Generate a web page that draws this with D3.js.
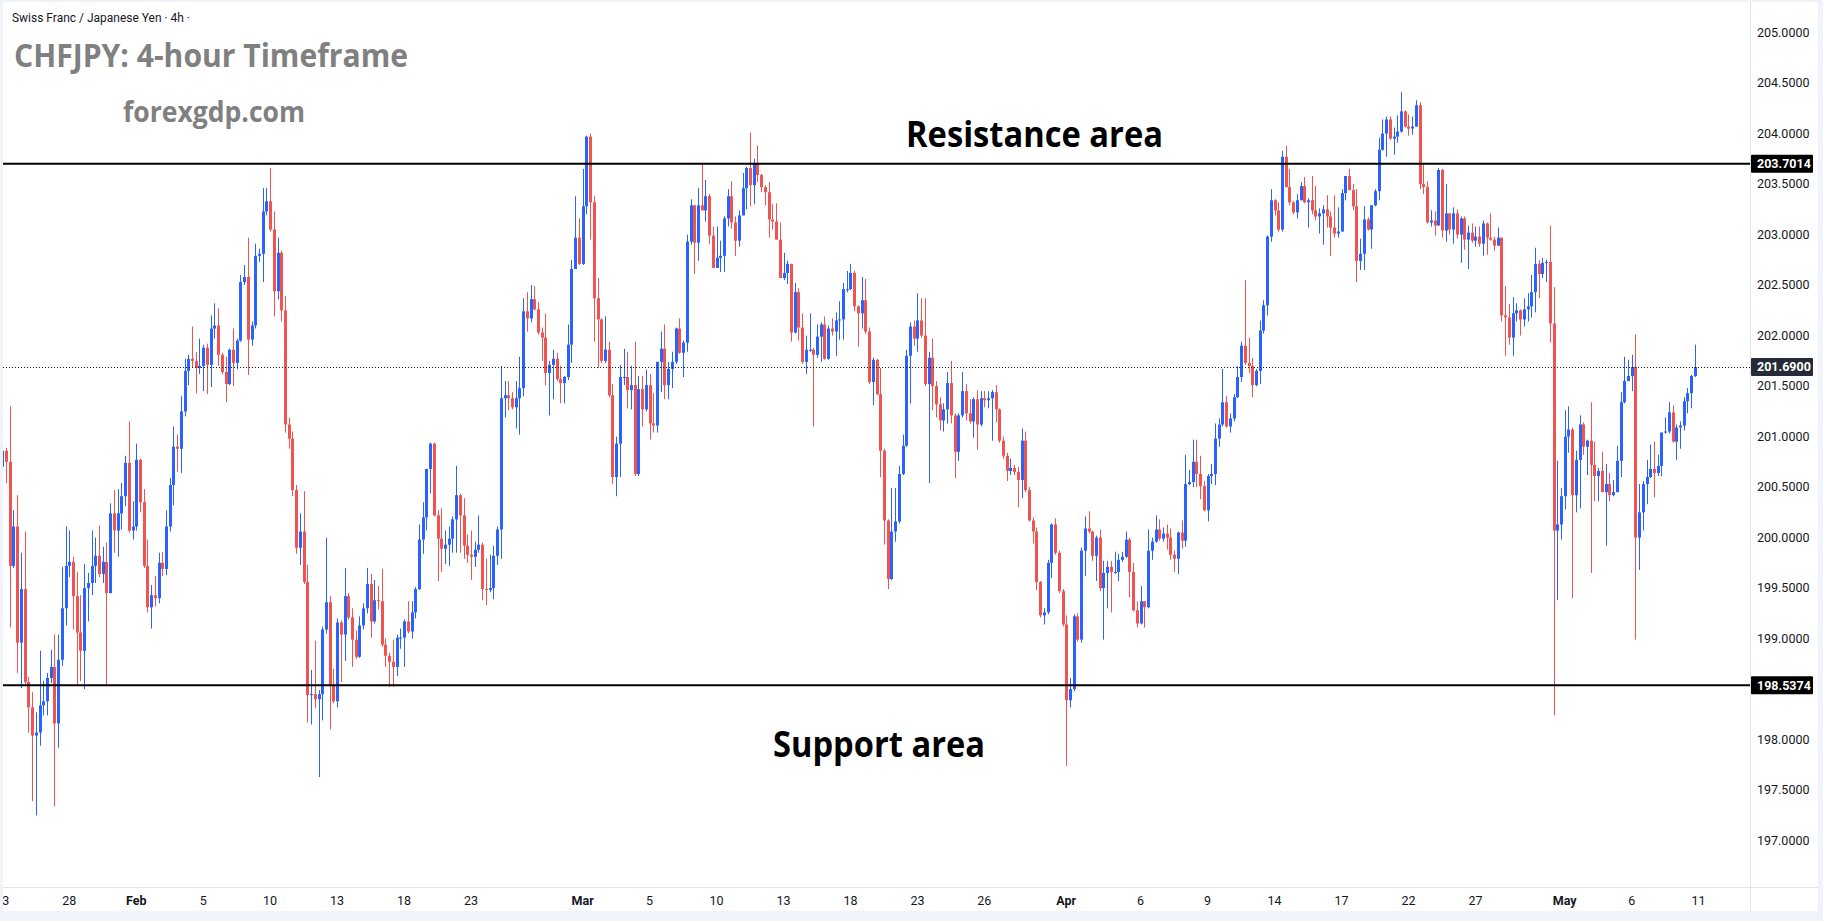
<!DOCTYPE html>
<html>
<head>
<meta charset="utf-8">
<script src="https://cdn.jsdelivr.net/npm/d3@7"></script>
<style>
  html, body { margin: 0; padding: 0; background: #f0f3fa; }
  svg { display: block; }
</style>
</head>
<body>
<div id="chart"></div>
<script>
// Page size and plot box
let svgWidth = 1823;
let svgHeight = 921;
let plot = { left: 3, top: 2, right: 1750, bottom: 887 };

// ---- data: CHFJPY 4h candles, 23 Jan -> 11 May (open of each bar = previous close)
const firstOpen = 200.70;

const closes = [
200.86,200.75,199.72,200.11,198.96,199.49, 198.57,198.32,198.04,198.07,198.34,198.38,
198.61,198.72,198.16,198.79,199.30,199.72, 199.76,199.42,199.06,198.88,199.50,199.55,
199.72,199.82,199.64,199.76,199.45,200.24, 200.07,200.24,200.41,200.74,200.07,200.11,
200.77,200.35,199.72,199.31,199.43,199.40, 199.75,199.69,200.11,200.52,200.90,200.88,
201.25,201.65,201.77,201.75,201.68,201.70, 201.88,201.71,202.07,202.10,201.81,201.64,
201.52,201.86,201.73,201.95,202.53,202.58, 201.96,202.10,202.79,202.81,203.23,203.33,
203.05,202.44,202.82,202.25,201.12,200.98, 200.47,199.90,200.06,199.56,198.44,198.45,
198.40,198.45,199.09,199.36,198.54,198.38, 199.16,199.04,199.42,199.21,198.99,198.82,
199.13,199.30,199.54,199.17,199.38,199.37, 198.94,198.83,198.77,198.72,199.01,199.01,
199.17,199.07,199.26,199.49,199.98,200.20, 200.68,200.93,200.22,199.99,199.89,199.93,
199.99,200.18,200.42,200.22,199.92,199.83, 199.81,199.88,199.93,199.49,199.48,199.50,
199.82,200.08,201.38,201.41,201.38,201.29, 201.38,201.48,202.24,202.17,202.36,202.26,
202.03,201.98,201.63,201.71,201.77,201.57, 201.53,201.59,201.91,202.66,202.97,202.71,
203.28,203.97,203.32,202.37,202.16,201.75, 201.86,201.41,200.60,200.93,201.59,201.59,
201.46,201.51,200.63,201.47,201.27,201.51, 201.13,201.11,201.74,201.87,201.51,201.67,
201.74,202.07,201.83,201.93,202.93,203.29, 202.92,203.29,203.24,203.38,202.99,202.67,
202.77,202.79,203.16,203.38,203.12,202.94, 203.19,203.46,203.66,203.49,203.70,203.59,
203.47,203.42,203.15,203.13,202.95,202.57, 202.62,202.71,202.03,202.43,202.08,201.74,
201.86,201.86,201.81,201.99,202.11,201.77, 202.07,202.04,202.15,202.16,202.46,202.46,
202.62,202.29,202.22,202.35,202.04,201.54, 201.76,201.42,200.86,200.17,199.59,200.06,
200.16,200.63,200.91,201.80,202.09,201.97, 202.15,202.00,201.52,201.78,201.50,201.32,
201.16,201.27,201.53,201.21,200.85,201.21, 201.45,201.23,201.15,201.37,201.12,201.38,
201.36,201.38,201.44,201.27,200.96,200.81, 200.66,200.69,200.65,200.57,200.96,200.47,
200.17,200.06,199.56,199.23,199.26,199.75, 200.13,199.85,199.47,199.14,198.39,198.50,
199.22,198.99,199.87,200.09,200.06,199.82, 200.00,199.50,199.65,199.71,199.66,199.66,
199.78,199.81,199.98,199.66,199.28,199.15, 199.37,199.31,199.87,199.96,200.08,199.99,
200.04,200.00,199.83,199.79,200.05,199.97, 200.53,200.55,200.75,200.63,200.51,200.27,
200.61,200.63,200.98,201.12,201.34,201.10, 201.18,201.39,201.59,201.90,201.73,201.70,
201.51,201.65,202.05,202.30,202.98,203.34, 203.24,203.05,203.77,203.47,203.32,203.22,
203.34,203.48,203.32,203.34,203.24,203.18, 203.21,203.25,203.18,203.07,203.01,203.03,
203.41,203.58,203.44,203.28,202.74,202.81, 203.15,203.05,203.29,203.43,203.84,204.00,
204.14,203.95,203.97,204.02,204.22,204.07, 204.05,204.07,204.28,203.50,203.47,203.12,
203.14,203.09,203.64,203.04,203.21,203.05, 203.21,203.00,203.16,202.95,203.02,202.94,
202.98,202.91,203.11,202.97,202.95,202.89, 202.97,202.20,202.18,201.98,202.22,202.25,
202.16,202.26,202.29,202.43,202.71,202.61, 202.72,202.73,202.12,200.07,200.13,200.41,
201.00,201.07,200.42,200.77,201.12,200.90, 200.96,200.72,200.61,200.66,200.45,200.53,
200.42,200.45,200.76,201.34,201.55,201.60, 201.69,200.00,200.25,200.53,200.60,200.68,
200.64,200.71,201.04,201.05,201.24,200.95, 201.09,201.11,201.35,201.43,201.60,201.69
];

const highs = [
200.88,200.89,201.30,200.27,200.42,199.85, 200.06,198.62,198.47,198.27,198.88,198.58,
198.66,198.89,199.04,199.04,199.71,200.11, 200.07,199.81,199.66,199.43,199.74,199.65,
200.07,200.00,200.12,199.91,199.95,200.34, 200.47,200.48,200.54,200.81,201.15,200.36,
200.93,200.78,200.48,199.98,199.53,199.62, 199.85,199.86,200.27,200.59,201.10,201.02,
201.40,201.77,201.81,202.09,201.84,201.97, 201.91,201.92,202.20,202.32,202.27,201.83,
201.79,201.87,202.07,201.97,202.60,202.70, 202.97,202.14,202.91,202.86,203.46,203.46,
203.66,203.23,202.97,202.84,202.39,201.19, 201.05,200.52,200.24,200.46,199.73,198.69,
198.98,198.49,199.12,200.00,199.42,198.70, 199.20,199.18,199.70,199.45,199.30,199.08,
199.22,199.35,199.70,199.64,199.58,199.52, 199.69,199.00,198.86,198.99,199.04,199.10,
199.19,199.37,199.37,199.51,200.13,200.35, 200.68,200.94,200.94,200.27,200.29,200.07,
200.11,200.21,200.71,200.43,200.39,200.03, 200.07,199.96,200.22,199.95,199.79,199.83,
199.92,200.11,201.70,201.55,201.55,201.44, 201.55,201.79,202.37,202.43,202.50,202.49,
202.33,202.08,202.22,201.75,201.86,201.83, 201.70,201.60,202.11,202.75,203.38,203.16,
203.65,203.98,204.00,203.38,202.57,202.17, 202.19,201.94,201.52,201.00,201.71,201.87,
201.84,201.70,201.94,201.60,201.60,201.66, 201.62,201.43,201.74,202.04,202.11,201.74,
201.84,202.08,202.17,201.95,203.00,203.35, 203.29,203.46,203.71,203.54,203.40,203.08,
203.08,202.94,203.18,203.45,203.53,203.18, 203.24,203.61,203.67,204.01,203.75,203.88,
203.60,203.49,203.52,203.30,203.31,203.12, 202.82,202.74,202.71,202.52,202.47,202.22,
202.00,202.22,201.88,202.11,202.13,202.19, 202.10,202.17,202.23,202.34,202.52,202.64,
202.71,202.64,202.30,202.58,202.56,202.08, 201.78,201.77,201.68,200.88,200.18,200.49,
200.49,200.71,201.02,201.86,202.13,202.15, 202.42,202.37,202.37,201.84,201.97,201.55,
201.39,201.33,201.64,201.75,201.23,201.23, 201.64,201.52,201.37,201.39,201.46,201.45,
201.45,201.45,201.46,201.51,201.28,201.00, 200.84,200.78,200.72,200.70,201.08,201.05,
200.50,200.20,200.10,199.57,199.30,199.78, 200.14,200.19,199.87,199.49,199.23,198.61,
199.24,199.25,199.90,200.21,200.26,200.07, 200.02,200.08,199.77,199.77,199.77,199.86,
199.84,199.86,200.06,200.00,199.75,199.37, 199.52,199.37,200.08,200.00,200.22,200.18,
200.10,200.13,200.09,199.87,200.06,200.17, 200.82,200.67,200.97,200.97,200.81,200.56,
200.63,200.73,201.13,201.18,201.67,201.40, 201.23,201.42,201.70,201.94,202.55,201.98,
201.78,201.67,202.15,202.35,202.99,203.45, 203.35,203.32,203.83,203.88,203.65,203.33,
203.40,203.52,203.57,203.36,203.58,203.48, 203.26,203.29,203.39,203.23,203.39,203.27,
203.45,203.58,203.65,203.50,203.45,202.96, 203.28,203.17,203.29,203.45,203.96,204.14,
204.17,204.17,204.06,204.18,204.41,204.23, 204.19,204.17,204.33,204.31,203.71,203.53,
203.24,203.23,203.66,203.65,203.50,203.21, 203.27,203.25,203.18,203.18,203.09,203.11,
203.08,203.08,203.14,203.12,203.21,202.98, 203.07,202.97,202.49,202.31,202.38,202.32,
202.26,202.37,202.42,202.60,202.87,202.75, 202.77,202.75,203.09,202.48,200.76,200.49,
201.26,201.30,201.09,200.86,201.21,201.14, 200.97,201.34,200.95,200.69,200.85,200.73,
200.64,200.57,200.91,201.44,201.79,201.76, 201.81,202.01,200.53,200.56,200.77,200.92,
200.95,200.82,201.04,201.19,201.34,201.31, 201.12,201.15,201.39,201.48,201.61,201.91
];

const lows = [
200.68,200.54,199.11,199.70,198.66,198.51, 198.55,198.07,197.39,197.25,197.94,198.24,
198.24,198.56,197.34,197.92,198.73,199.13, 199.61,199.09,198.54,198.58,198.50,199.17,
199.43,199.55,199.61,199.55,198.54,199.45, 199.85,199.81,200.08,200.31,200.05,199.98,
200.07,200.25,199.70,199.26,199.10,199.32, 199.35,199.62,199.63,200.06,200.32,200.65,
200.64,201.20,201.51,201.68,201.43,201.62, 201.45,201.42,201.49,201.97,201.70,201.62,
201.34,201.51,201.50,201.67,201.94,202.50, 201.61,201.90,202.07,202.73,202.53,203.19,
203.03,202.19,202.36,202.14,201.04,200.88, 200.41,199.84,199.73,199.54,198.17,198.15,
198.31,197.63,198.19,199.05,198.10,198.36, 198.32,198.57,198.78,199.19,198.72,198.80,
198.81,199.09,199.25,199.01,199.15,199.29, 198.92,198.72,198.52,198.52,198.63,198.90,
198.72,199.05,199.00,199.20,199.48,199.84, 200.07,200.44,200.21,199.57,199.66,199.74,
199.72,199.85,199.85,199.85,199.79,199.75, 199.58,199.71,199.85,199.38,199.33,199.46,
199.39,199.73,199.79,201.19,201.26,201.27, 201.08,201.02,201.40,202.04,202.13,202.25,
202.01,201.75,201.51,201.21,201.37,201.55, 201.33,201.33,201.56,201.73,202.66,202.70,
202.70,203.20,202.95,201.94,201.68,201.73, 201.73,201.39,200.53,200.41,200.60,201.51,
201.28,201.27,200.61,200.61,201.10,201.25, 200.97,201.04,201.04,201.44,201.37,201.37,
201.48,201.72,201.82,201.59,201.84,202.90, 202.61,202.74,203.24,203.13,202.91,202.67,
202.67,202.63,202.63,203.08,203.06,202.79, 202.88,203.19,203.25,203.28,203.30,203.52,
203.42,203.29,202.97,203.05,202.95,202.57, 202.55,202.51,201.94,202.02,201.95,201.72,
201.62,201.84,201.10,201.78,201.74,201.76, 201.76,202.00,201.80,201.96,201.96,202.43,
202.45,202.24,201.89,202.07,202.02,201.52, 201.31,201.41,200.60,199.93,199.49,199.58,
199.96,200.14,200.62,200.90,201.33,201.90, 201.84,201.98,201.50,200.54,201.26,201.19,
201.06,201.05,201.13,201.13,200.59,200.76, 201.19,201.16,201.13,200.99,200.87,201.10,
201.29,201.28,200.96,201.14,200.94,200.78, 200.56,200.62,200.62,200.30,200.39,200.45,
200.16,199.94,199.48,199.21,199.14,199.24, 199.60,199.83,199.45,199.12,197.74,198.32,
198.48,198.97,198.96,199.62,200.04,199.77, 199.57,199.47,198.99,199.30,199.26,199.64,
199.57,199.76,199.80,199.41,199.27,199.11, 199.14,199.11,199.30,199.78,199.95,199.97,
199.96,199.88,199.78,199.66,199.64,199.89, 199.91,200.52,200.50,200.50,200.38,200.26,
200.16,200.53,200.52,200.90,201.10,201.09, 201.04,201.15,201.38,201.54,201.71,201.63,
201.39,201.50,201.52,202.02,202.20,202.93, 203.19,203.03,203.03,203.47,203.29,203.20,
203.16,203.34,203.31,203.07,203.20,203.14, 203.01,202.90,203.07,202.79,202.97,202.97,
203.03,203.34,203.44,203.24,202.53,202.65, 202.65,203.04,202.86,203.28,203.34,203.83,
203.77,203.94,203.79,203.91,204.01,204.06, 203.98,203.99,204.07,203.45,203.40,203.11,
203.08,202.99,203.09,202.97,202.93,203.00, 202.91,202.96,202.72,202.85,202.66,202.92,
202.88,202.88,202.79,202.80,202.94,202.84, 202.89,202.14,201.80,201.91,201.80,202.14,
202.00,202.09,202.14,202.18,202.23,202.37, 202.57,202.53,201.93,198.24,199.38,199.98,
200.28,200.84,199.40,200.25,200.29,200.82, 200.62,199.65,200.36,200.36,200.45,199.92,
200.36,200.41,200.45,200.60,201.33,201.55, 201.45,198.99,199.68,200.07,200.33,200.59,
200.40,200.61,200.61,201.03,201.03,200.94, 200.77,200.88,201.06,201.23,201.28,201.59
];

// time axis: label text and the bar index it sits on
const tickLabels = ["23","28","Feb","5","10","13","18","23","Mar","5","10","13","18",
                    "23","26","Apr","6","9","14","17","22","27","May","6","11"];
const tickBars = [0,18,36,54,72,90,108,126,156,174,192,210,228,
                  246,264,286,306,324,342,360,378,396,420,438,456];
const monthNames = ["Feb","Mar","Apr","May"];

// price axis ticks and marked levels
const priceTicks = [197,197.5,198,198.5,199,199.5,200,200.5,201,201.5,
                    202,202.5,203,203.5,204,204.5,205];
const resistance = 203.7014;
const support = 198.5374;
const lastPrice = 201.69;

// build candle table
let candles = closes.map((c, i) => ({
  i: i,
  o: i === 0 ? firstOpen : closes[i - 1],
  h: highs[i],
  l: lows[i],
  c: c
}));

let upColor = "#2962ff";
let downColor = "#f05350";

// scales
let x = d3.scaleLinear().domain([0, 455]).range([2.3, 2.3 + 455 * 3.72]);
let y = d3.scaleLinear().domain([197, 205]).range([840.6, 32.6]);

let svg = d3.select("#chart")
  .append("svg")
  .attr("width", svgWidth)
  .attr("height", svgHeight);

// white chart panel
svg.append("rect")
  .attr("x", 3).attr("y", 2)
  .attr("width", 1815).attr("height", 909)
  .attr("fill", "#ffffff");

svg.append("clipPath").attr("id", "plotClip")
  .append("rect")
  .attr("x", plot.left).attr("y", plot.top)
  .attr("width", plot.right - plot.left).attr("height", plot.bottom - plot.top);

svg.append("clipPath").attr("id", "timeClip")
  .append("rect")
  .attr("x", plot.left).attr("y", plot.bottom)
  .attr("width", plot.right - plot.left).attr("height", 30);

// axis separators
svg.append("line")
  .attr("x1", plot.right + 0.5).attr("x2", plot.right + 0.5)
  .attr("y1", 2).attr("y2", 911)
  .attr("stroke", "#e0e3eb");
svg.append("line")
  .attr("x1", 3).attr("x2", 1818)
  .attr("y1", plot.bottom + 0.5).attr("y2", plot.bottom + 0.5)
  .attr("stroke", "#e0e3eb");

let chartGroup = svg.append("g").attr("clip-path", "url(#plotClip)");

// wicks
chartGroup.selectAll("rect.wick")
  .data(candles)
  .enter()
  .append("rect")
  .attr("class", "wick")
  .attr("x", d => Math.round(x(d.i)))
  .attr("width", 1)
  .attr("y", d => y(Math.max(d.h, d.o, d.c)))
  .attr("height", d => Math.max(1, y(Math.min(d.l, d.o, d.c)) - y(Math.max(d.h, d.o, d.c))))
  .attr("fill", d => d.c >= d.o ? upColor : downColor);

// bodies
chartGroup.selectAll("rect.body")
  .data(candles)
  .enter()
  .append("rect")
  .attr("class", "body")
  .attr("x", d => Math.round(x(d.i)) - 1)
  .attr("width", 3)
  .attr("y", d => y(Math.max(d.o, d.c)))
  .attr("height", d => Math.max(1, Math.abs(y(d.o) - y(d.c))))
  .attr("fill", d => d.c >= d.o ? upColor : downColor);

// support / resistance lines
[resistance, support].forEach(level => {
  chartGroup.append("line")
    .attr("x1", plot.left).attr("x2", plot.right)
    .attr("y1", y(level)).attr("y2", y(level))
    .attr("stroke", "#000000")
    .attr("stroke-width", 2);
});

// last price dotted line
chartGroup.append("line")
  .attr("x1", plot.left).attr("x2", plot.right)
  .attr("y1", Math.round(y(lastPrice)) + 0.5).attr("y2", Math.round(y(lastPrice)) + 0.5)
  .attr("stroke", "#131722")
  .attr("stroke-width", 1)
  .attr("stroke-dasharray", "1,2");

// price axis labels (a tick hidden under a level box is not drawn, as on the original)
let axisFont = "Roboto, 'Noto Sans', sans-serif";
let boxedLevels = [resistance, support, lastPrice];
let visibleTicks = priceTicks.filter(t =>
  boxedLevels.every(l => Math.abs(y(t) - y(l)) > 14));

svg.append("g").selectAll("text")
  .data(visibleTicks)
  .enter()
  .append("text")
  .attr("x", 1757)
  .attr("y", d => y(d))
  .attr("dy", "0.35em")
  .style("font-family", axisFont)
  .style("font-size", "12.5px")
  .style("fill", "#131722")
  .text(d => d.toFixed(4));

// boxed level labels
[[resistance, "#000000"], [support, "#000000"], [lastPrice, "#262b38"]].forEach(([level, bg]) => {
  let g = svg.append("g");
  g.append("rect")
    .attr("x", 1751).attr("y", y(level) - 9)
    .attr("width", 62).attr("height", 18)
    .attr("rx", 1)
    .attr("fill", bg);
  g.append("text")
    .attr("x", 1757)
    .attr("y", y(level))
    .attr("dy", "0.35em")
    .style("font-family", axisFont)
    .style("font-size", "12.5px")
    .style("font-weight", "bold")
    .style("fill", "#ffffff")
    .text(level.toFixed(4));
});

// time axis labels
svg.append("g").attr("clip-path", "url(#timeClip)")
  .selectAll("text")
  .data(tickLabels)
  .enter()
  .append("text")
  .attr("x", (d, k) => x(tickBars[k]))
  .attr("y", 901)
  .attr("dy", "0.35em")
  .style("text-anchor", "middle")
  .style("font-family", axisFont)
  .style("font-size", "12.5px")
  .style("font-weight", d => monthNames.includes(d) ? "bold" : "normal")
  .style("fill", "#131722")
  .text(d => d);

// header texts
svg.append("text")
  .attr("x", 12).attr("y", 22)
  .attr("textLength", 178).attr("lengthAdjust", "spacingAndGlyphs")
  .style("font-family", axisFont)
  .style("font-size", "12.5px")
  .style("fill", "#131722")
  .text("Swiss Franc / Japanese Yen · 4h ·");

svg.append("text")
  .attr("x", 14).attr("y", 67)
  .attr("textLength", 394).attr("lengthAdjust", "spacingAndGlyphs")
  .style("font-family", "'Open Sans', sans-serif")
  .style("font-size", "32px")
  .style("font-weight", "bold")
  .style("fill", "#808080")
  .text("CHFJPY: 4-hour Timeframe");

svg.append("text")
  .attr("x", 123).attr("y", 122)
  .attr("textLength", 182).attr("lengthAdjust", "spacingAndGlyphs")
  .style("font-family", "'Open Sans', sans-serif")
  .style("font-size", "29px")
  .style("font-weight", "bold")
  .style("fill", "#808080")
  .text("forexgdp.com");

// level captions
svg.append("text")
  .attr("x", 906).attr("y", 147)
  .attr("textLength", 257).attr("lengthAdjust", "spacingAndGlyphs")
  .style("font-family", "'Open Sans', sans-serif")
  .style("font-size", "35px")
  .style("font-weight", "bold")
  .style("fill", "#000000")
  .text("Resistance area");

svg.append("text")
  .attr("x", 773).attr("y", 757)
  .attr("textLength", 212).attr("lengthAdjust", "spacingAndGlyphs")
  .style("font-family", "'Open Sans', sans-serif")
  .style("font-size", "35px")
  .style("font-weight", "bold")
  .style("fill", "#000000")
  .text("Support area");
</script>
</body>
</html>
